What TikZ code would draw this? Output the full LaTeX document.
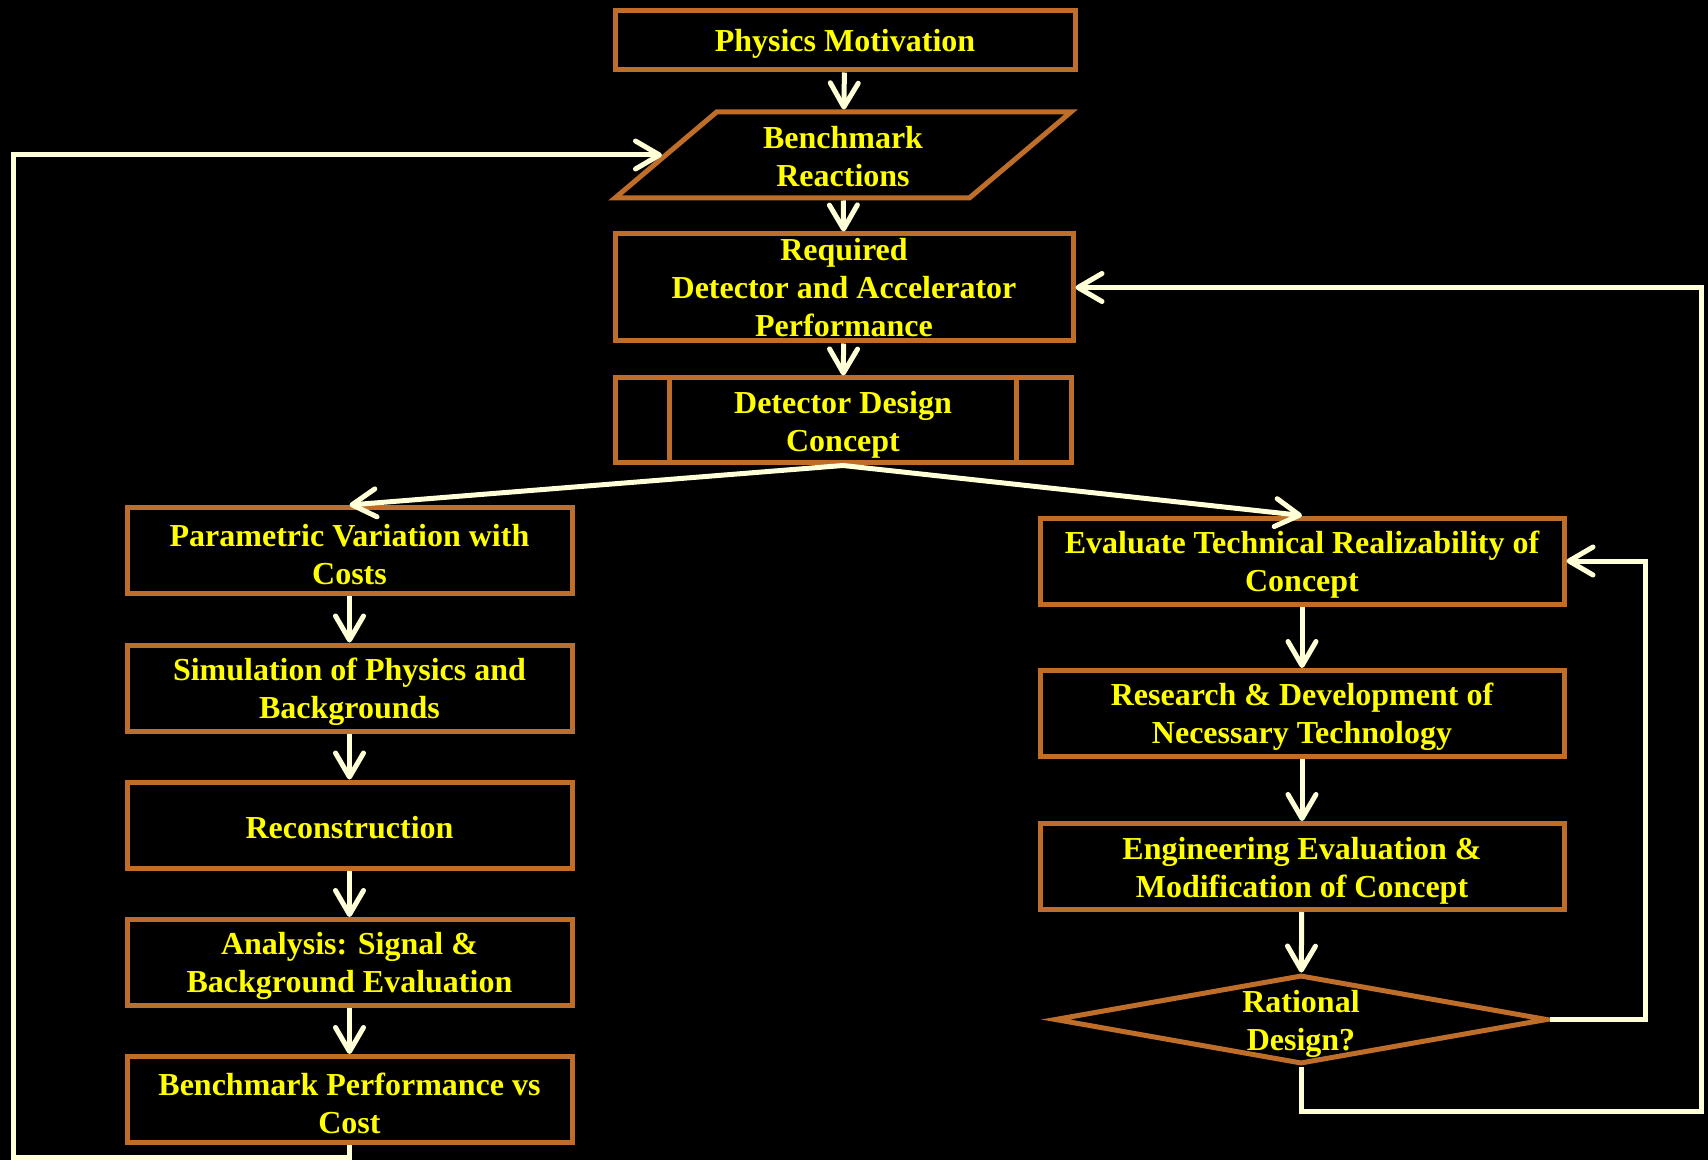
\documentclass[tikz,border=0pt]{standalone}
\usepackage{fontspec}
\setmainfont{Liberation Serif}
\usetikzlibrary{arrows.meta,shapes.geometric}
\definecolor{boxline}{HTML}{BE6E28}
\definecolor{flow}{HTML}{FFFFD8}
\definecolor{caption}{HTML}{FFFF00}

\begin{document}
\begin{tikzpicture}[x=0.5pt,y=-0.5pt,
  stage/.style={draw=boxline,line width=2.5pt,text=caption,font=\bfseries\fontsize{16}{19}\selectfont,align=center,inner sep=0pt,minimum height=43pt},
  oneline/.style={text height=14pt},
  twoline/.style={text height=34pt},
  leftstage/.style={stage,twoline,minimum width=222.5pt},
  rightstage/.style={stage,twoline,minimum width=262pt},
  flowline/.style={flow,line width=2.5pt,-{Straight Barb[length=12pt,width=14pt,round]}},
]
  \fill[black] (0,0) rectangle (1708,1160);
  \useasboundingbox (0,0) rectangle (1708,1160);

  % central column
  \node[stage,oneline,minimum width=230pt,minimum height=29.5pt] (phys) at (845,40.5) {Physics Motivation};
  \node[stage,trapezium,trapezium left angle=45,trapezium right angle=135,trapezium stretches,minimum width=228pt,text height=32pt] (bench) at (843,155) {Benchmark\\Reactions};
  \node[stage,minimum width=229pt,minimum height=53.5pt] (req) at (844,287.5) {Required\\Detector and Accelerator\\Performance};
  \node[stage,twoline,minimum width=228pt,minimum height=42.5pt] (dd) at (843,420.5) {Detector Design\\Concept};
  \draw[boxline,line width=2.5pt] ([xshift=28.5pt]dd.north west) -- ([xshift=28.5pt]dd.south west);
  \draw[boxline,line width=2.5pt] ([xshift=-28.5pt]dd.north east) -- ([xshift=-28.5pt]dd.south east);

  % left column
  \node[leftstage] (par) at (349.5,550.5) {Parametric Variation with\\Costs};
  \node[leftstage] (sim) at (349.5,688) {Simulation of Physics and\\Backgrounds};
  \node[leftstage,oneline] (reco) at (349.5,825) {Reconstruction};
  \node[leftstage] (ana) at (349.5,962.5) {Analysis: Signal \&\\Background Evaluation};
  \node[leftstage] (perf) at (349.5,1099.5) {Benchmark Performance vs\\Cost};

  % right column
  \node[rightstage] (eval) at (1302,561) {Evaluate Technical Realizability of\\Concept};
  \node[rightstage] (rnd) at (1302,713.5) {Research \& Development of\\Necessary Technology};
  \node[rightstage] (eng) at (1302,866.5) {Engineering Evaluation \&\\Modification of Concept};
  \node[diamond,draw=boxline,line width=2.5pt,inner sep=0pt,minimum width=246.5pt,minimum height=44.5pt,
    label={[text=caption,font=\bfseries\fontsize{16}{19}\selectfont,align=center,yshift=-2pt]center:Rational\\Design?}] (ratl) at (1301,1019.5) {};

  \coordinate (lb) at (13,1157);
  \coordinate (rl) at (1645,561);
  \coordinate (rb) at (1701,1111);

  \draw[flowline] (phys) -- (bench);
  \draw[flowline] (bench) -- (req);
  \draw[flowline] (req) -- (dd);
  \draw[flowline] (dd.south) -- (par.north);
  \draw[flowline] (dd.south) -- (eval.north);
  \draw[flowline] (par) -- (sim);
  \draw[flowline] (sim) -- (reco);
  \draw[flowline] (reco) -- (ana);
  \draw[flowline] (ana) -- (perf);
  \draw[flowline] (eval) -- (rnd);
  \draw[flowline] (rnd) -- (eng);
  \draw[flowline] (eng) -- (ratl);
  \draw[flowline] (perf.south) |- (lb) |- (bench.west);
  \draw[flowline] (ratl.east) -| (rl) -- (eval.east);
  \draw[flowline] (ratl.south) |- (rb) |- (req.east);
\end{tikzpicture}
\end{document}
